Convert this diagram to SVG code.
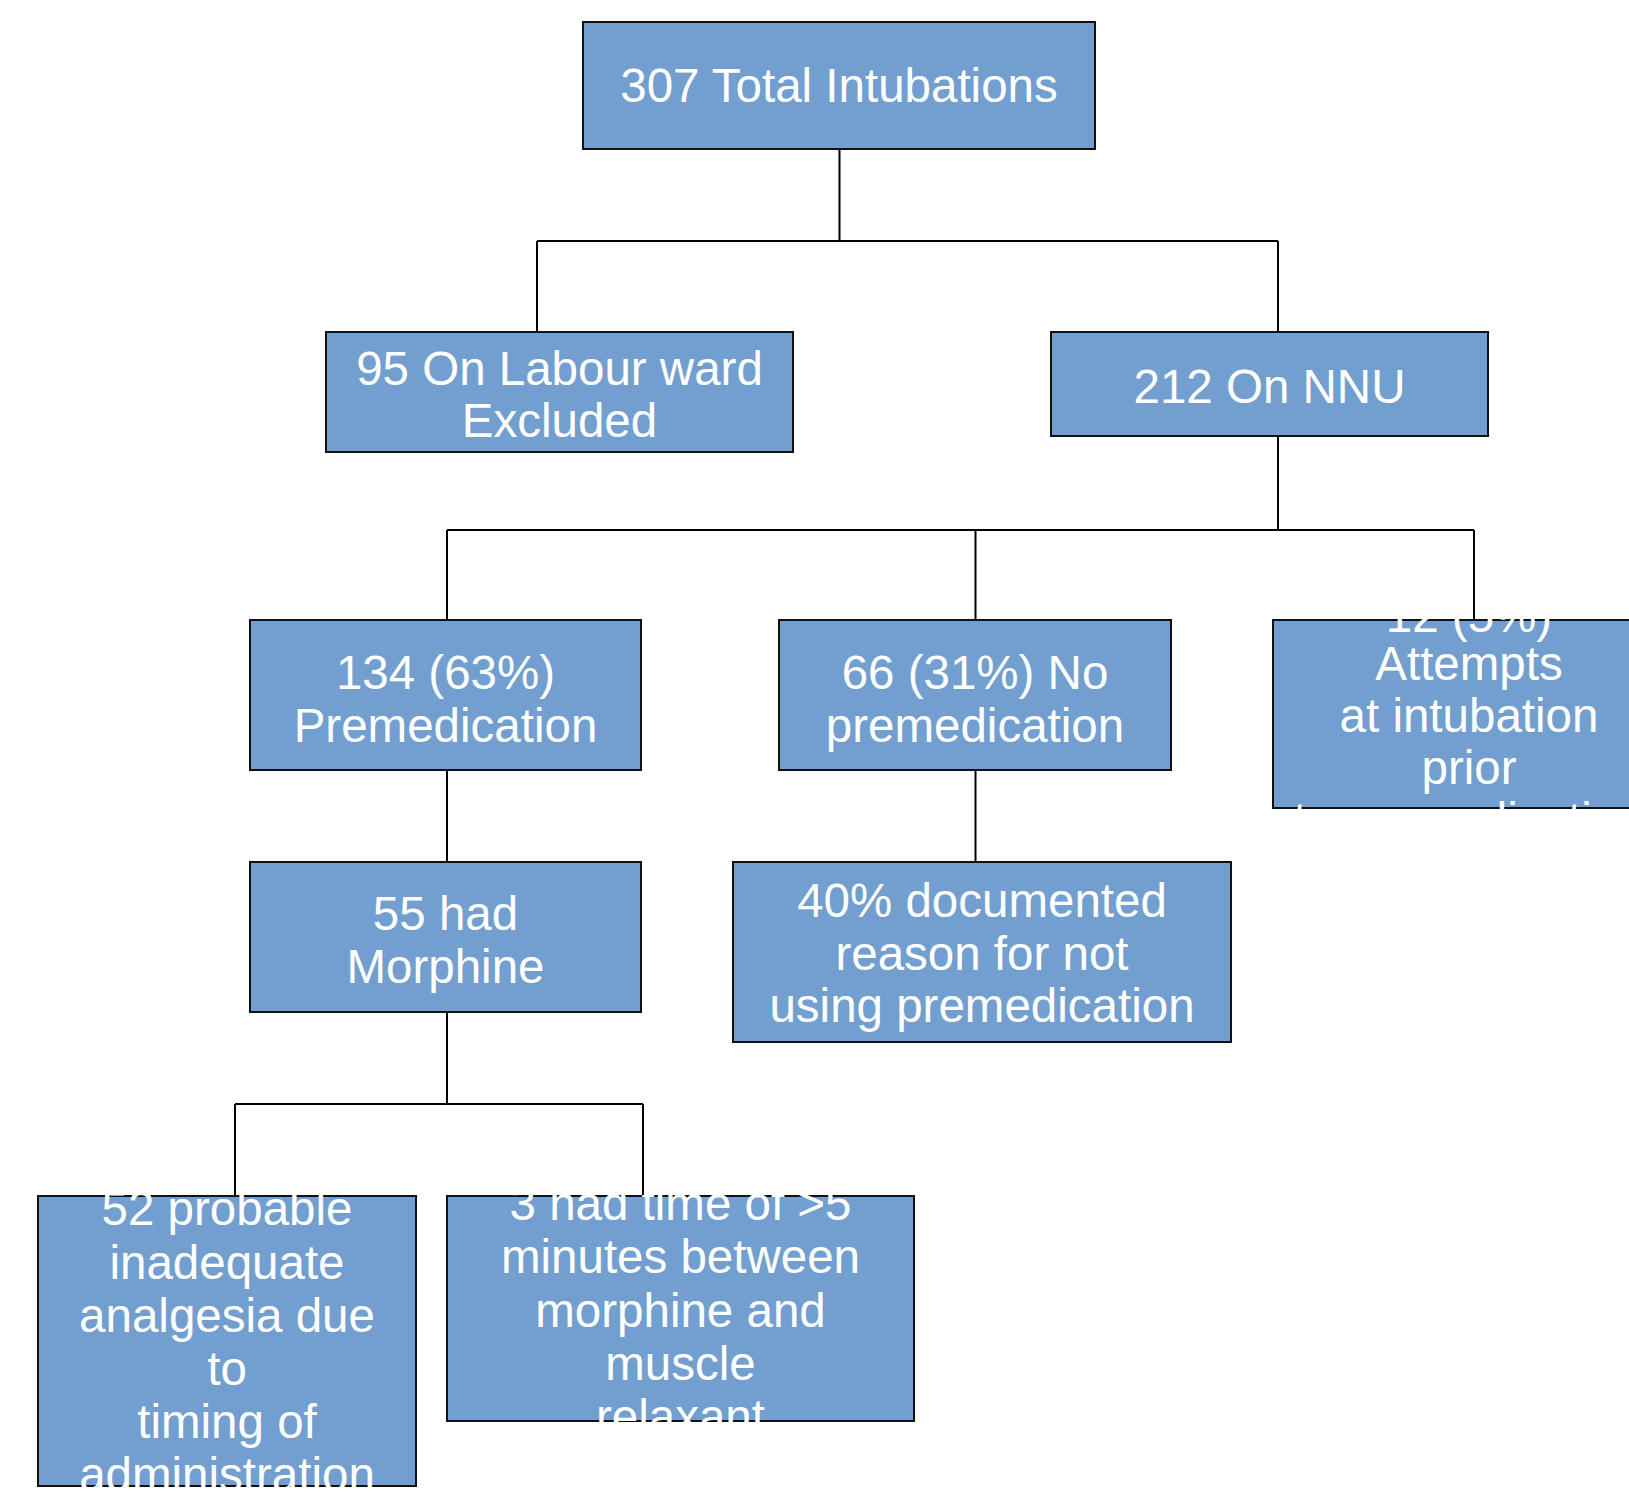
<svg xmlns="http://www.w3.org/2000/svg" width="1629" height="1492" viewBox="0 0 1629 1492">
<style>
.box{fill:#729fcf;stroke:#111;stroke-width:2}
.lbl{fill:#fff;font-family:"Liberation Sans",Arial,sans-serif;font-size:47.5px;text-anchor:middle}
.conn{fill:none;stroke:#000;stroke-width:2}
</style>
<defs>
<clipPath id="c6"><rect x="1272" y="619" width="400" height="190"/></clipPath>
<clipPath id="c9"><rect x="37" y="1195" width="380" height="292"/></clipPath>
<clipPath id="c10"><rect x="446" y="1195" width="469" height="227"/></clipPath>
</defs>
<rect width="1629" height="1492" fill="#fff"/>
<g id="connectors">
<path class="conn" d="M839.5 149V241M537 241H1278M537 241V332M1278 241V332"/>
<path class="conn" d="M1278 436V530M447 530H1474M447 530V620M975.5 530V620M1474 530V620"/>
<path class="conn" d="M447 770V862"/>
<path class="conn" d="M975.5 770V862"/>
<path class="conn" d="M447 1012V1104M235 1104H643M235 1104V1196M643 1104V1196"/>
</g>
<g id="n1"><rect class="box" x="583" y="22" width="512" height="127"/><text class="lbl" x="839" y="102">307 Total Intubations</text></g>
<g id="n2"><rect class="box" x="326" y="332" width="467" height="120"/><text class="lbl" x="559.5"><tspan x="559.5" y="385">95 On Labour ward</tspan><tspan x="559.5" y="437">Excluded</tspan></text></g>
<g id="n3"><rect class="box" x="1051" y="332" width="437" height="104"/><text class="lbl" x="1269.5" y="403">212 On NNU</text></g>
<g id="n4"><rect class="box" x="250" y="620" width="391" height="150"/><text class="lbl"><tspan x="445.5" y="689">134 (63%)</tspan><tspan x="445.5" y="742">Premedication</tspan></text></g>
<g id="n5"><rect class="box" x="779" y="620" width="392" height="150"/><text class="lbl"><tspan x="975" y="689">66 (31%) No</tspan><tspan x="975" y="742">premedication</tspan></text></g>
<g id="n6"><rect class="box" x="1273" y="620" width="392" height="188"/><text class="lbl" clip-path="url(#c6)"><tspan x="1469" y="632">12 (5%)</tspan><tspan x="1469" y="680">Attempts</tspan><tspan x="1469" y="732">at intubation</tspan><tspan x="1469" y="784">prior</tspan><tspan x="1469" y="836">to premedication</tspan></text></g>
<g id="n7"><rect class="box" x="250" y="862" width="391" height="150"/><text class="lbl"><tspan x="445.5" y="930">55 had</tspan><tspan x="445.5" y="983">Morphine</tspan></text></g>
<g id="n8"><rect class="box" x="733" y="862" width="498" height="180"/><text class="lbl"><tspan x="982" y="917">40% documented</tspan><tspan x="982" y="970">reason for not</tspan><tspan x="982" y="1022">using premedication</tspan></text></g>
<g id="n9"><rect class="box" x="38" y="1196" width="378" height="290"/><text class="lbl" clip-path="url(#c9)"><tspan x="227" y="1225">52 probable</tspan><tspan x="227" y="1279">inadequate</tspan><tspan x="227" y="1332">analgesia due</tspan><tspan x="227" y="1385">to</tspan><tspan x="227" y="1438">timing of</tspan><tspan x="227" y="1491">administration</tspan></text></g>
<g id="n10"><rect class="box" x="447" y="1196" width="467" height="225"/><text class="lbl" clip-path="url(#c10)"><tspan x="680.5" y="1220">3 had time of &gt;5</tspan><tspan x="680.5" y="1273">minutes between</tspan><tspan x="680.5" y="1327">morphine and</tspan><tspan x="680.5" y="1380">muscle</tspan><tspan x="680.5" y="1433">relaxant</tspan></text></g>
</svg>
